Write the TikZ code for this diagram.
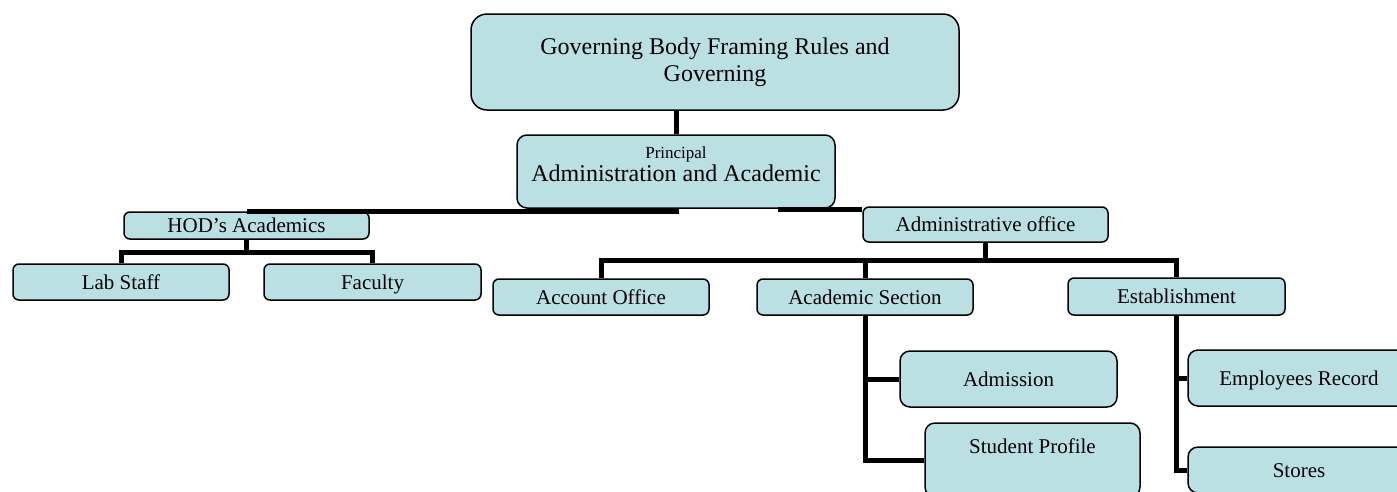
\documentclass[tikz,border=0pt]{standalone}
\usepackage{fontspec}
\setmainfont{Liberation Serif}
\usepackage{tikz}
\usepackage{xcolor}
\usetikzlibrary{positioning, calc}

\definecolor{boxfill}{RGB}{186,224,228}

\begin{document}
\begin{tikzpicture}[
    x=1pt, y=-1pt,
    orgbox/.style={draw, line width=1.5pt, fill=boxfill, rounded corners=6pt, inner sep=1pt,
        align=center, font=\fontsize{21}{25}\selectfont},
    onerow/.style={orgbox, inner ysep=0pt, text height=16pt, text depth=2pt},
    conn/.style={draw, line width=5pt}
]
    \path[use as bounding box, clip] (0,0) rectangle (1397,491);

    % Top Levels
    \node[orgbox, rounded corners=16pt, minimum width=488pt, minimum height=96pt,
        font=\fontsize{24}{27}\selectfont] (gov) at (715,62)
        {Governing Body Framing Rules and\\Governing};
    \node[orgbox, rounded corners=10pt, minimum width=318pt, minimum height=73pt,
        font=\fontsize{24}{26}\selectfont] (princ) at (676,171.5)
        {\raisebox{7pt}[\height][\depth]{\begin{tabular}{@{}c@{}}%
        {\fontsize{17}{19}\selectfont Principal}\\[-3pt]Administration and Academic\end{tabular}}};

    % Academic Side
    \node[onerow, minimum width=245pt, minimum height=27pt] (hod) at (246.5,225.5) {HOD’s Academics};
    \node[onerow, minimum width=216pt, minimum height=36pt] (lab) at (121,282) {Lab Staff};
    \node[onerow, minimum width=217pt, minimum height=36pt] (fac) at (372.5,282) {Faculty};

    % Administrative Side
    \node[onerow, minimum width=245pt, minimum height=35pt] (admin) at (985.5,224.5) {Administrative office};
    \node[onerow, minimum width=216pt, minimum height=36pt] (acct) at (601,297) {Account Office};
    \node[onerow, minimum width=216pt, minimum height=36pt] (acad) at (865,297) {Academic Section};
    \node[onerow, minimum width=217pt, minimum height=37pt] (estab) at (1176.5,296.5) {Establishment};
    \node[onerow, rounded corners=10pt, minimum width=217pt, minimum height=56pt] (adm) at (1008.5,379) {Admission};
    \node[orgbox, rounded corners=10pt, minimum width=215pt, inner ysep=0pt,
        text height=30pt, text depth=44pt] (stud) at (1032.5,460) {Student Profile};
    \node[onerow, rounded corners=10pt, minimum width=222pt, minimum height=56pt] (emp) at (1299,378) {Employees Record};
    \node[onerow, rounded corners=10pt, minimum width=222pt, minimum height=46pt] (stores) at (1299,470) {Stores};

    % Connectors
    \coordinate (pa) at (778,209.5);
    \draw[conn] (princ.north) -- (princ.north |- gov.south);
    \draw[conn] (princ.south) |- (hod.north);
    \draw[conn] (pa) -- (pa -| admin.west);
    \draw[conn] (hod.south) -- ++(0,13) -| (lab.north);
    \draw[conn] (hod.south) -- ++(0,13) -| (fac.north);
    \draw[conn] (admin.south) -- ++(0,18) -| (acct.north);
    \draw[conn] (admin.south) -- ++(0,18) -| (acad.north);
    \draw[conn] (admin.south) -- ++(0,18) -| (estab.north);
    \draw[conn] (acad.south) |- (adm.west);
    \draw[conn] (acad.south) |- (stud.west);
    \draw[conn] (estab.south) |- (emp.west);
    \draw[conn] (estab.south) |- (stores.west);
\end{tikzpicture}
\end{document}
